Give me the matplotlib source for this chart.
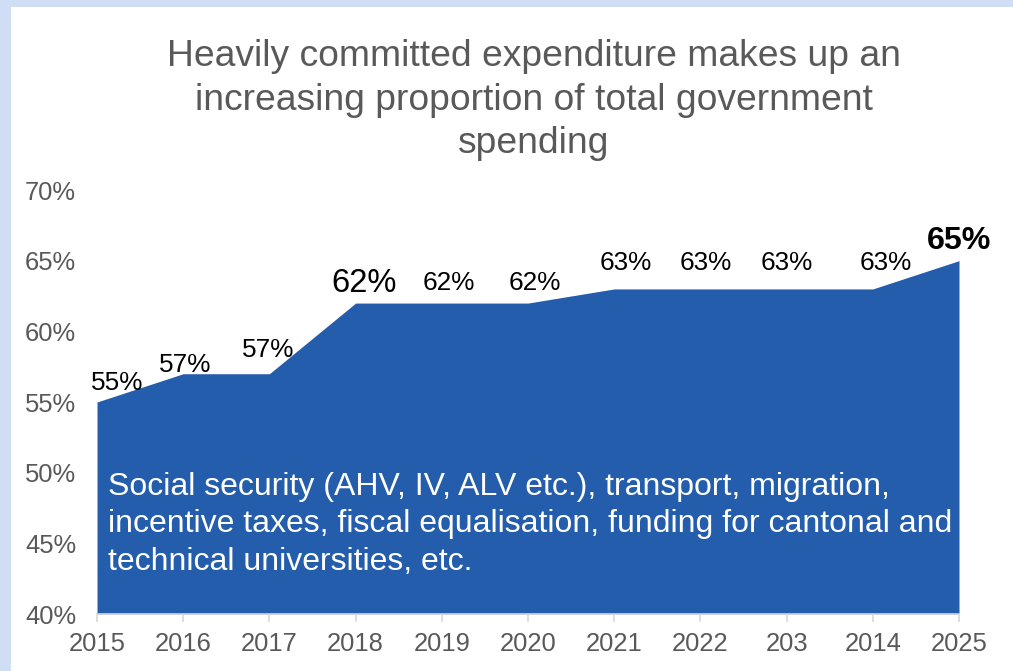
import matplotlib.pyplot as plt
from matplotlib.patches import Rectangle

plt.rcParams['font.family'] = ['Liberation Sans', 'DejaVu Sans']

# data
years = [2015, 2016, 2017, 2018, 2019, 2020, 2021, 2022, 2023, 2024, 2025]
year_labels = ['2015', '2016', '2017', '2018', '2019', '2020', '2021', '2022', '203', '2014', '2025']
share = [55, 57, 57, 62, 62, 62, 63, 63, 63, 63, 65]
yticks = [40, 45, 50, 55, 60, 65, 70]

# label offsets in points (dx, dy to baseline) and styles
offsets = [(14.4, 8.6), (1.4, 1.4), (-0.7, 12.2), (5.8, 7.9), (5.4, 9.4), (4.7, 9.4),
           (8.6, 13.5), (3.6, 13.5), (0, 13.5), (9.4, 13.5), (0, 8.6)]
sizes = [18.8, 18.8, 18.8, 23.6, 18.8, 18.8, 18.8, 18.8, 18.8, 18.8, 23.2]
weights = ['normal'] * 10 + ['bold']

blue = '#245dab'
grey = '#595959'

fig = plt.figure(figsize=(10.13, 6.71), dpi=100, facecolor='#cfdef5')
fig.patches.append(Rectangle((11 / 1013, 0), 1, (671 - 7) / 671, transform=fig.transFigure,
                             facecolor='white', edgecolor='none', zorder=-1))

ax = fig.add_axes([97 / 1013, 57 / 671, (959 - 97) / 1013, (614 - 190) / 671])
ax.set_zorder(2)
ax.set_facecolor('none')
ax.fill_between(years, 40, share, color=blue, linewidth=0)
ax.set_xlim(2015, 2025)
ax.set_ylim(40, 70)
ax.set_xticks(years)
ax.set_xticklabels(year_labels)
ax.set_yticks(yticks)
ax.set_yticklabels([f'{v}%' for v in yticks])
ax.tick_params(axis='x', colors='#d9d9d9', length=6, width=1.2, labelcolor=grey, labelsize=18.4, pad=7)
ax.tick_params(axis='y', length=0, labelcolor=grey, labelsize=18.4, pad=15)
for s in ['top', 'right', 'left']:
    ax.spines[s].set_visible(False)
ax.spines['bottom'].set_color('#d9d9d9')
ax.spines['bottom'].set_linewidth(1.2)

for x, v, (dx, dy), fs, fw in zip(years, share, offsets, sizes, weights):
    ax.annotate(f'{v}%', (x, v), xytext=(dx, dy), textcoords='offset points',
                ha='center', va='baseline', fontsize=fs, fontweight=fw, color='black')

ax.text(2015.13, 46.35, 'Social security (AHV, IV, ALV etc.), transport, migration,\n'
        'incentive taxes, fiscal equalisation, funding for cantonal and\n'
        'technical universities, etc.', color='white', fontsize=23,
        ha='left', va='center', linespacing=1.33)

fig.text(534 / 1013, 1 - 100 / 671, 'Heavily committed expenditure makes up an\n'
         'increasing proportion of total government\nspending',
         ha='center', va='center', fontsize=26.8, color=grey, linespacing=1.32)

fig.savefig('out.png', dpi=100, facecolor=fig.get_facecolor())
